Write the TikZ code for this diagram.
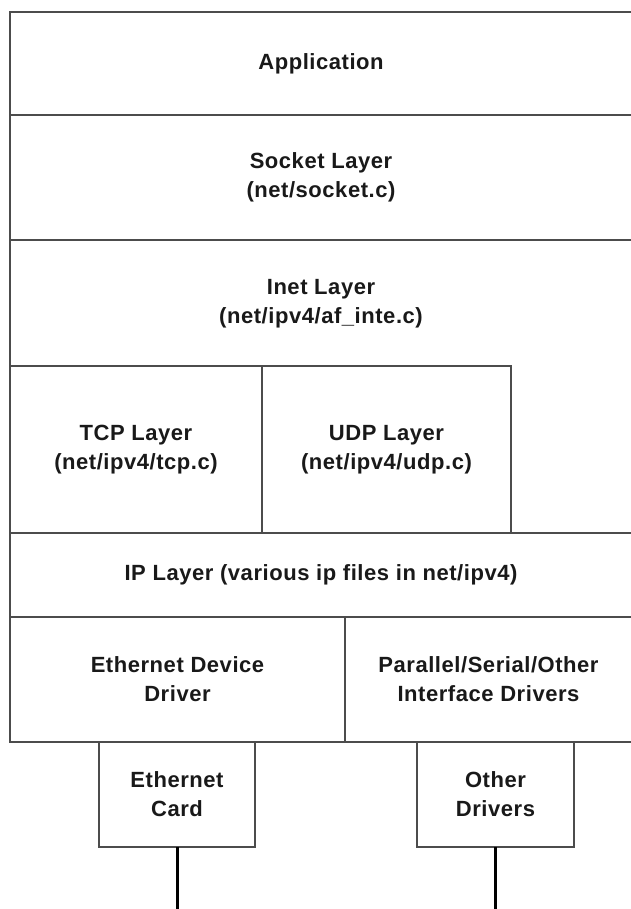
\documentclass[tikz,border=0pt]{standalone}
\usepackage{fontspec}
\setmainfont{Liberation Sans}[LetterSpace=2.5]
\begin{document}
\begin{tikzpicture}[x=1pt,y=-1pt,
  layer/.style={draw=black!70, line width=1.6pt, inner sep=0pt, outer sep=0pt,
    font=\bfseries\fontsize{22}{29}\selectfont, text=black!90, align=center},
  txt/.style={inner sep=0pt, font=\bfseries\fontsize{22}{29}\selectfont, text=black!90, align=center},
  wire/.style={draw=black, line width=3pt}]
\useasboundingbox[fill=white] (0,0) rectangle (630,909);
% Inet layer (L-shaped region behind TCP/UDP)
\node[layer, minimum width=622pt, minimum height=293pt] (inet) at (321,386.5) {};
\node[txt] (inettext) at (321,304) {Inet Layer\\(net/ipv4/af\_inte.c)};
\node[layer, minimum width=622pt, minimum height=103pt] (app) at (321,63.5) {Application};
\node[layer, minimum width=622pt, minimum height=125pt] (sock) at (321,177.5) {Socket Layer\\(net/socket.c)};
\node[layer, minimum width=252pt, minimum height=167pt] (tcp) at (136,449.5) {TCP Layer\\(net/ipv4/tcp.c)};
\node[layer, minimum width=249pt, minimum height=167pt] (udp) at (386.5,449.5) {UDP Layer\\(net/ipv4/udp.c)};
\node[layer, minimum width=622pt, minimum height=84pt] (ip) at (321,575) {IP Layer (various ip files in net/ipv4)};
\node[layer, minimum width=335pt, minimum height=125pt] (eth) at (177.5,679.5) {Ethernet Device\\Driver};
\node[layer, minimum width=287pt, minimum height=125pt] (par) at (488.5,679.5) {Parallel/Serial/Other\\Interface Drivers};
\node[layer, minimum width=156pt, minimum height=105pt] (card) at (177,794.5) {Ethernet\\Card};
\node[layer, minimum width=157pt, minimum height=105pt] (other) at (495.5,794.5) {Other\\Drivers};
\coordinate (cardend) at (177,909);
\coordinate (otherend) at (495.5,909);
\draw[wire] (card.south) -- (cardend);
\draw[wire] (other.south) -- (otherend);
\end{tikzpicture}
\end{document}
